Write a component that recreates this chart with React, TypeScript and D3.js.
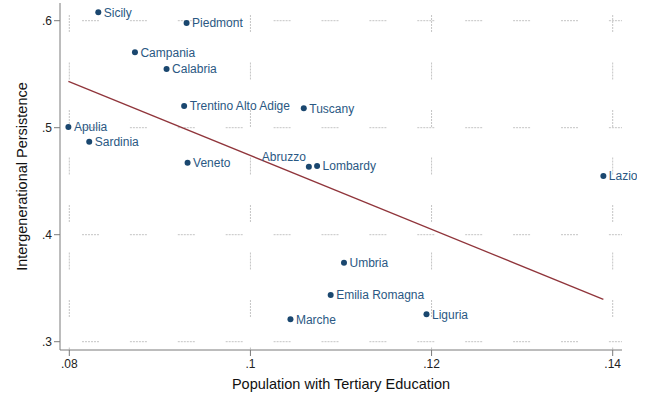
import React from "react";
import * as d3 from "d3";

// Italian regions: share of population with tertiary education vs. intergenerational persistence
const regions = [
  "Sicily", "Piedmont", "Campania", "Calabria", "Trentino Alto Adige", "Tuscany",
  "Apulia", "Sardinia", "Veneto", "Abruzzo", "Lombardy", "Lazio",
  "Umbria", "Emilia Romagna", "Liguria", "Marche",
];
const tertiary = [
  0.0832, 0.09295, 0.08725, 0.09074, 0.09268, 0.10589,
  0.0799, 0.0822, 0.09306, 0.10645, 0.10736, 0.13897,
  0.11033, 0.10886, 0.11944, 0.10442,
];
const persistence = [
  0.6078, 0.5978, 0.5705, 0.5549, 0.5203, 0.5181,
  0.5007, 0.4869, 0.4673, 0.4636, 0.4642, 0.4549,
  0.3738, 0.3436, 0.3256, 0.3209,
];
// regions whose label sits up and to the left of the marker
const leftLabels = ["Abruzzo"];

const xTicks = [0.08, 0.1, 0.12, 0.14];
const yTicks = [0.3, 0.4, 0.5, 0.6];
const xTitle = "Population with Tertiary Education";
const yTitle = "Intergenerational Persistence";

const W = 652;
const H = 398;
const FONT = "Arial, 'Liberation Sans', Helvetica, sans-serif";
const NAVY = "#1a476f";
const LABEL = "#2a5883";
const MAROON = "#90353b";
const AXIS = "#7a7a7a";
const GRID = "#c4c4c4";

const fmt = (v: number) => {
  const s = d3.format("")(+v.toFixed(2));
  return s.replace(/^0\./, ".");
};

// dash made of fine dots, followed by a long gap
const gridDash = (gap: number) => "2 1 2 1 2 1 2 1 2 1 2 " + gap;

export default function App() {
  const x = d3.scaleLinear().domain([0.08, 0.14]).range([69.3, 612.7]);
  const y = d3.scaleLinear().domain([0.3, 0.6]).range([341.7, 20.7]);

  const axisLeft = 60;
  const axisBottom = 350;
  const axisTop = 3;
  const axisRight = 622;

  // least-squares fit over the plotted points
  const mx = d3.mean(tertiary)!;
  const my = d3.mean(persistence)!;
  let sxy = 0;
  let sxx = 0;
  tertiary.forEach((v, i) => {
    sxy += (v - mx) * (persistence[i] - my);
    sxx += (v - mx) * (v - mx);
  });
  const slope = sxy / sxx;
  const intercept = my - slope * mx;
  const [xMin, xMax] = d3.extent(tertiary) as [number, number];
  const fitLine = d3
    .line<number>()
    .x((v) => x(v))
    .y((v) => y(intercept + slope * v));

  return (
    <div style={{ position: "fixed", left: 0, top: 0, width: W, height: H, background: "#fff" }}>
      <svg width={W} height={H} style={{ display: "block", fontFamily: FONT }}>
        <defs>
          <clipPath id="chartClip">
            <rect x={0} y={0} width={637} height={H} />
          </clipPath>
        </defs>
        <rect width={W} height={H} fill="#fff" />

        {/* grid */}
        {yTicks.map((t) => (
          <line
            key={"gy" + t}
            x1={axisLeft}
            x2={axisRight}
            y1={y(t)}
            y2={y(t)}
            stroke={GRID}
            strokeWidth={1}
            strokeDasharray={gridDash(30.9)}
            strokeDashoffset={25.9}
          />
        ))}
        {xTicks.map((t) => (
          <line
            key={"gx" + t}
            x1={x(t)}
            x2={x(t)}
            y1={axisTop}
            y2={axisBottom}
            stroke={GRID}
            strokeWidth={1}
            strokeDasharray={gridDash(30.5)}
            strokeDashoffset={35.5}
          />
        ))}

        {/* axes */}
        <line x1={axisLeft} x2={axisLeft} y1={axisTop} y2={axisBottom} stroke={AXIS} strokeWidth={1} />
        <line x1={axisLeft} x2={axisRight} y1={axisBottom} y2={axisBottom} stroke={AXIS} strokeWidth={1} />
        {yTicks.map((t) => (
          <g key={"ty" + t}>
            <line x1={axisLeft - 6} x2={axisLeft} y1={y(t)} y2={y(t)} stroke={AXIS} strokeWidth={1} />
            <text x={axisLeft - 8} y={y(t) + 4.3} textAnchor="end" fontSize={12} fill="#222">
              {fmt(t)}
            </text>
          </g>
        ))}
        {xTicks.map((t) => (
          <g key={"tx" + t}>
            <line x1={x(t)} x2={x(t)} y1={axisBottom} y2={axisBottom + 6} stroke={AXIS} strokeWidth={1} />
            <text x={x(t)} y={axisBottom + 18} textAnchor="middle" fontSize={12} fill="#222">
              {fmt(t)}
            </text>
          </g>
        ))}

        {/* axis titles */}
        <text x={341} y={389} textAnchor="middle" fontSize={14.5} fill="#111">
          {xTitle}
        </text>
        <text
          transform={`translate(26.5, 176.5) rotate(-90)`}
          textAnchor="middle"
          fontSize={14.5}
          fill="#111"
        >
          {yTitle}
        </text>

        {/* fitted line */}
        <path d={fitLine([xMin, xMax]) ?? ""} fill="none" stroke={MAROON} strokeWidth={1.3} />

        {/* points and labels */}
        <g clipPath="url(#chartClip)">
          {regions.map((name, i) => {
            const cx = x(tertiary[i]);
            const cy = y(persistence[i]);
            const left = leftLabels.includes(name);
            return (
              <g key={name}>
                <circle cx={cx} cy={cy} r={3} fill={NAVY} />
                <text
                  x={left ? cx - 3 : cx + 5.5}
                  y={left ? cy - 6 : cy + 4.3}
                  textAnchor={left ? "end" : "start"}
                  fontSize={12}
                  fill={LABEL}
                >
                  {name}
                </text>
              </g>
            );
          })}
        </g>
      </svg>
    </div>
  );
}
